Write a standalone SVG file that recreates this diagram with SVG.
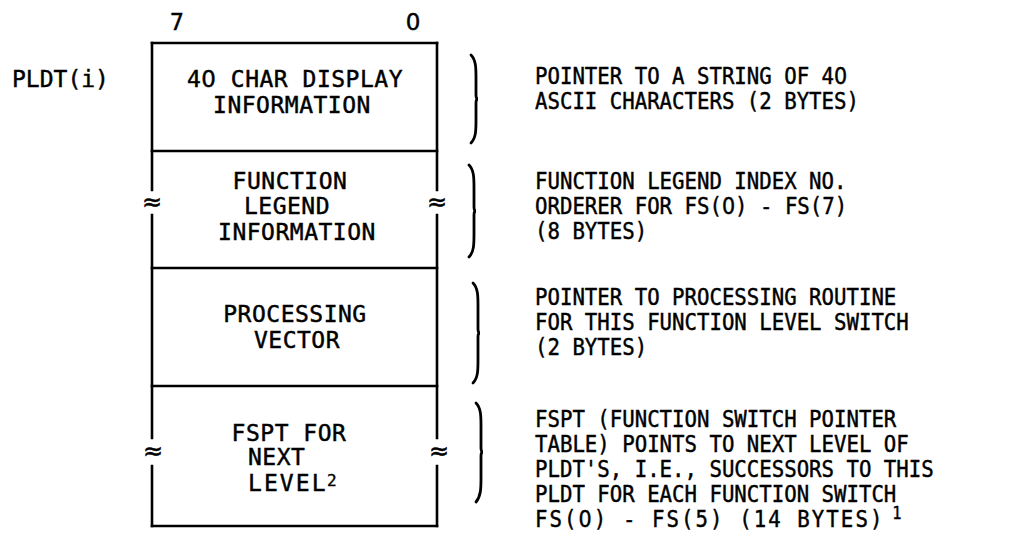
<svg xmlns="http://www.w3.org/2000/svg" width="1030" height="543" viewBox="0 0 1030 543">
<style>
.ln{stroke:#000;stroke-width:2.6;fill:none;stroke-linecap:square}
.br{stroke:#000;stroke-width:2.8;fill:none;stroke-linecap:round}
.t{font-family:"DejaVu Sans Mono","Liberation Mono",monospace;font-size:23px;fill:#000;stroke:#000;stroke-width:0.45}
.bx{font-family:"DejaVu Sans Mono","Liberation Mono",monospace;font-size:23px;fill:#000;stroke:#000;stroke-width:0.45;letter-spacing:0.5px}
.z{font-family:"DejaVu Sans","Liberation Sans",sans-serif}
.ap{font-family:"DejaVu Sans","Liberation Sans",sans-serif;font-size:24px;fill:#000;stroke:#000;stroke-width:0.5;text-anchor:middle}
.sup{font-family:"DejaVu Sans Mono","Liberation Mono",monospace;font-size:16px;fill:#000;stroke:#000;stroke-width:0.4}
</style>
<rect width="1030" height="543" fill="#fff"/>
<g id="bit-labels">
<text class="t" x="177" y="30" text-anchor="middle">7</text>
<text class="t z" x="413" y="30" text-anchor="middle">0</text>
</g>
<g id="pldt-label"><text class="t" x="12" y="87">PLDT(i)</text></g>
<g id="frame">
<path class="ln" d="M152,43 H437 M152,151 H437 M152,268 H437 M152,386 H437 M152,526 H437"/>
<path class="ln" d="M152,43 V190 M152,215 V438 M152,466 V526"/>
<path class="ln" d="M437,43 V190 M437,215 V438 M437,466 V526"/>
<text class="ap" x="152" y="210">≈</text>
<text class="ap" x="437" y="210">≈</text>
<text class="ap" x="153" y="459">≈</text>
<text class="ap" x="439" y="459">≈</text>
</g>
<g id="node-display">
<text class="bx" x="295" y="87" text-anchor="middle">4<tspan class="z">0</tspan> CHAR DISPLAY</text>
<text class="bx" x="292" y="113" text-anchor="middle">INFORMATION</text>
</g>
<g id="node-legend">
<text class="bx" x="290" y="189" text-anchor="middle">FUNCTION</text>
<text class="bx" x="287" y="214" text-anchor="middle">LEGEND</text>
<text class="bx" x="297" y="240" text-anchor="middle">INFORMATION</text>
</g>
<g id="node-vector">
<text class="bx" x="295" y="322" text-anchor="middle">PROCESSING</text>
<text class="bx" x="297" y="348" text-anchor="middle">VECTOR</text>
</g>
<g id="node-fspt">
<text class="bx" x="289" y="441" text-anchor="middle">FSPT FOR</text>
<text class="bx" x="248" y="465">NEXT</text>
<text class="bx" x="248" y="491" textLength="78" lengthAdjust="spacing">LEVEL</text>
<text class="sup" x="327" y="486">2</text>
</g>
<g id="connectors">
<path class="br" d="M471,55 C476,60 476,68 476,78 L476,95 Q476,99 478,99 Q476,99 476,103 L476,120 C476,130 476,138 471,143"/>
<path class="br" d="M469,165 C474,170 474,178 474,188 L474,207 Q474,211 476,211 Q474,211 474,215 L474,234 C474,244 474,252 469,257"/>
<path class="br" d="M473,283 C478,288 478,296 478,306 L478,329 Q478,333 480,333 Q478,333 478,337 L478,360 C478,370 478,378 473,383"/>
<path class="br" d="M476,403 C481,408 481,416 481,426 L481,448 Q481,452 483,452 Q481,452 481,456 L481,478 C481,488 481,496 476,502"/>
</g>
<g id="desc-display" transform="translate(535,0) scale(0.9,1)">
<text class="t" x="0" y="84">POINTER TO A STRING OF 4<tspan class="z">0</tspan></text>
<text class="t" x="0" y="109">ASCII CHARACTERS (2 BYTES)</text>
</g>
<g id="desc-legend" transform="translate(535,0) scale(0.9,1)">
<text class="t" x="0" y="189">FUNCTION LEGEND INDEX NO.</text>
<text class="t" x="0" y="214">ORDERER FOR FS(<tspan class="z">0</tspan>) - FS(7)</text>
<text class="t" x="0" y="239">(8 BYTES)</text>
</g>
<g id="desc-vector" transform="translate(535,0) scale(0.9,1)">
<text class="t" x="0" y="305">POINTER TO PROCESSING ROUTINE</text>
<text class="t" x="0" y="330">FOR THIS FUNCTION LEVEL SWITCH</text>
<text class="t" x="0" y="355">(2 BYTES)</text>
</g>
<g id="desc-fspt" transform="translate(535,0) scale(0.9,1)">
<text class="t" x="0" y="427">FSPT (FUNCTION SWITCH POINTER</text>
<text class="t" x="0" y="452">TABLE) POINTS TO NEXT LEVEL OF</text>
<text class="t" x="0" y="477">PLDT'S, I.E., SUCCESSORS TO THIS</text>
<text class="t" x="0" y="502">PLDT FOR EACH FUNCTION SWITCH</text>
<text class="t" x="0" y="527" textLength="386" lengthAdjust="spacing">FS(<tspan class="z">0</tspan>) - FS(5) (14 BYTES)</text>
<text class="sup" x="397" y="519" style="font-size:17px">1</text>
</g>
</svg>
